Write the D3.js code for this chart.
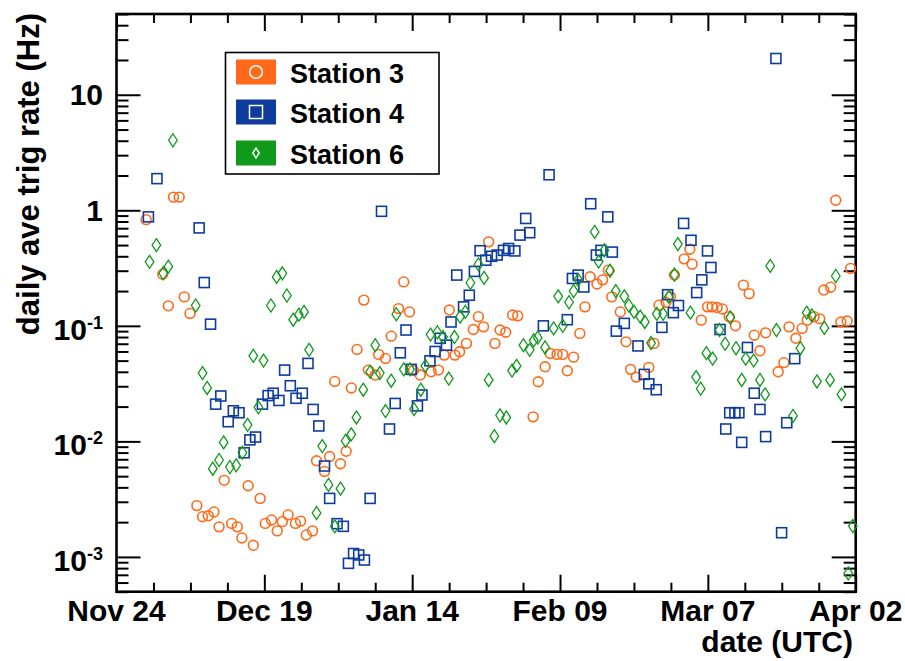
<!DOCTYPE html>
<html><head><meta charset="utf-8">
<script src="https://cdn.jsdelivr.net/npm/d3@7"></script>
<style>
html,body{margin:0;padding:0;background:#fff;}
text{font-family:"Liberation Sans",Arial,Helvetica,sans-serif;font-weight:bold;fill:#000;}
</style></head>
<body><svg id="c" width="905" height="661"></svg>
<script>
// ---- data (day offset from Nov 24, daily average trigger rate in Hz) ----
const tickLabels = ["Nov 24","Dec 19","Jan 14","Feb 09","Mar 07","Apr 02"];
const seriesNames = ["Station 3","Station 4","Station 6"];
const seriesColors = ["#ff6a1a","#0d3c9e","#109a1c"];

const s3Day = [5.2,8.1,9.1,10.0,11.0,11.9,12.9,14.1,15.1,16.1,17.1,18.0,18.9,20.2,21.2,22.0,23.1,24.0,25.2,26.1,27.2,28.2,29.1,30.1,31.4,32.3,33.3,34.4,35.1,36.5,37.4,38.3,39.3,40.3,41.2,42.2,43.4,44.2,45.4,46.0,47.2,48.2,49.5,50.4,51.4,52.1,53.3,55.2,56.5,57.5,58.4,59.4,60.2,61.4,62.6,63.5,64.4,65.3,66.4,67.3,68.3,69.5,70.4,73.1,74.0,75.2,76.1,77.3,78.3,79.1,80.2,81.3,82.2,83.1,84.3,85.3,86.3,86.9,88.4,89.4,90.2,91.2,93.4,94.3,95.2,96.4,97.2,97.9,99.6,100.6,101.0,102.6,103.7,104.5,105.4,106.3,107.5,108.6,110.0,111.0,111.9,112.9,113.9,116.1,117.1,118.0,119.2,120.3,121.2,122.4,123.4,124.1,125.3,126.2,127.1,128.2,128.8];
const s3Rate = [0.83,0.28,0.149,1.3,1.3,0.178,0.128,0.00278,0.00223,0.00227,0.00245,0.00182,0.0046,0.00195,0.00182,0.00146,0.00413,0.00126,0.00321,0.00195,0.00209,0.00168,0.00202,0.00231,0.00195,0.00204,0.00155,0.00168,0.0068,0.0055,0.0074,0.033,0.0064,0.0082,0.029,0.0625,0.167,0.0414,0.0375,0.0566,0.0522,0.0814,0.141,0.24,0.132,0.041,0.0375,0.040,0.0414,0.0558,0.137,0.0558,0.0596,0.0705,0.093,0.12,0.098,0.533,0.0705,0.092,0.088,0.124,0.122,0.0163,0.0328,0.0442,0.0576,0.0566,0.0566,0.0408,0.0536,0.086,0.146,0.266,0.23,0.25,0.303,0.178,0.132,0.0727,0.042,0.036,0.0437,0.0705,0.151,0.16,0.178,0.275,0.38,0.46,0.342,0.112,0.146,0.146,0.144,0.14,0.12,0.1,0.225,0.19,0.083,0.0608,0.087,0.040,0.048,0.098,0.078,0.095,0.112,0.12,0.115,0.204,0.216,1.22,0.108,0.11,0.314];

const s4Day = [5.6,7.1,14.5,15.4,16.5,17.4,18.3,19.6,20.5,21.5,22.4,23.4,24.4,25.6,26.6,27.5,28.5,29.5,30.5,31.5,32.6,33.6,34.5,35.5,36.5,37.4,38.7,39.8,40.7,41.6,42.5,43.5,44.5,46.5,47.9,48.9,49.8,50.8,51.7,52.8,53.6,55.0,55.9,56.8,57.9,58.7,59.7,60.9,61.9,62.8,63.8,64.8,65.8,66.8,67.9,68.8,69.9,70.8,71.8,72.5,74.9,75.9,79.1,80.0,81.0,82.0,83.2,84.2,85.0,86.2,87.0,87.7,89.1,91.5,92.6,93.4,94.7,95.7,96.7,97.7,98.6,99.5,100.8,101.8,102.7,103.7,104.3,105.9,106.9,107.6,108.5,109.2,109.7,110.7,111.9,112.9,113.9,115.7,116.7,117.6,119.0];
const s4Rate = [0.877,1.88,0.704,0.237,0.1034,0.021,0.0247,0.0148,0.0184,0.0177,0.00797,0.0103,0.0109,0.021,0.0249,0.0261,0.0226,0.0414,0.0303,0.0236,0.0261,0.0473,0.0189,0.0136,0.00612,0.00321,0.00194,0.00184,0.00088,0.00107,0.00104,0.00094,0.00321,0.98,0.0128,0.0213,0.0584,0.092,0.042,0.0203,0.0252,0.0498,0.060,0.078,0.068,0.108,0.275,0.146,0.184,0.296,0.447,0.37,0.40,0.41,0.45,0.467,0.445,0.61,0.85,0.64,0.1,2.03,0.113,0.257,0.275,0.217,1.14,0.41,0.45,0.877,0.435,0.09,0.105,0.067,0.038,0.0315,0.028,0.097,0.186,0.13,0.15,0.77,0.55,0.194,0.25,0.445,0.32,0.093,0.0128,0.0177,0.0177,0.0177,0.0098,0.065,0.0261,0.0189,0.011,20.6,0.00162,0.0145,0.052];

const s6Day = [5.8,7.0,8.2,9.1,9.9,13.9,15.1,15.9,16.9,18.0,18.8,19.9,21.0,22.1,23.0,24.0,24.9,25.8,27.1,28.1,29.1,29.9,31.0,32.0,32.9,33.8,35.1,36.1,37.2,38.3,39.3,40.2,41.2,42.1,43.3,44.5,45.4,46.2,47.2,48.2,49.1,50.4,51.5,52.2,53.4,54.2,55.1,56.3,57.3,58.3,59.3,60.3,61.2,62.1,63.5,64.5,65.3,66.3,67.3,68.4,69.4,70.2,71.4,72.5,73.2,73.9,75.2,76.7,77.5,78.3,79.4,80.2,81.0,83.9,84.6,85.6,86.6,87.6,89.1,89.9,90.8,91.9,92.7,93.8,94.8,95.9,96.9,97.9,98.5,100.7,101.7,102.5,103.5,104.6,105.8,106.8,107.7,108.7,109.7,110.4,111.8,112.9,113.8,114.7,115.8,118.7,120.0,121.1,122.0,122.9,124.2,125.2,126.2,127.2,128.4,129.2];
const s6Rate = [0.358,0.499,0.285,0.325,4.04,0.15,0.039,0.029,0.0058,0.0069,0.0098,0.006,0.0062,0.008,0.0139,0.055,0.0197,0.05,0.15,0.265,0.285,0.183,0.113,0.125,0.132,0.062,0.0024,0.0091,0.0042,0.00184,0.0039,0.0101,0.0115,0.0161,0.028,0.040,0.068,0.039,0.0183,0.0335,0.126,0.042,0.042,0.019,0.028,0.045,0.084,0.088,0.08,0.035,0.08,0.12,0.132,0.236,0.34,0.26,0.034,0.0111,0.0168,0.0161,0.041,0.045,0.068,0.062,0.075,0.079,0.065,0.095,0.18,0.10,0.16,0.2,0.25,0.65,0.36,0.45,0.30,0.2,0.18,0.15,0.132,0.12,0.108,0.071,0.127,0.127,0.178,0.278,0.51,0.13,0.036,0.0286,0.058,0.052,0.092,0.07,0.118,0.064,0.034,0.052,0.05,0.034,0.0255,0.33,0.092,0.0166,0.064,0.13,0.123,0.033,0.096,0.034,0.27,0.0255,0.00072,0.00185];

const yMajorValues = [1e-3,1e-2,1e-1,1,10];
const yMajorBase = ["10","10","10","1","10"];
const yMajorExp  = ["-3","-2","-1","",""];

// ---- layout ----
const L=116.5, R=855.7, T=14, B=591.7;
const dayMax = 129.7;
const svg = d3.select("#c");
const x = d3.scaleLinear().domain([0,dayMax]).range([L,R]);
const y = d3.scaleLog().domain([5e-4,50]).range([B,T]);

const xMajor = d3.range(6).map(i=>i*dayMax/5);
const xMinor = d3.range(21).map(i=>i*dayMax/20).filter((d,i)=>i%4!==0);
const yMinor = [];
for (let e=-4;e<=1;e++) for (let m=2;m<=9;m++){const v=m*Math.pow(10,e); if(v>=5e-4&&v<=50.01) yMinor.push(v);}

function axisStyle(g){g.select(".domain").remove(); g.selectAll("line").attr("stroke","#000").attr("stroke-width",2);}

svg.append("g").attr("transform",`translate(0,${B})`).call(d3.axisBottom(x).tickValues(xMajor).tickSize(-17).tickFormat("")).call(axisStyle);
svg.append("g").attr("transform",`translate(0,${B})`).call(d3.axisBottom(x).tickValues(xMinor).tickSize(-9).tickFormat("")).call(axisStyle);
svg.append("g").attr("transform",`translate(0,${T})`).call(d3.axisTop(x).tickValues(xMajor).tickSize(-17).tickFormat("")).call(axisStyle);
svg.append("g").attr("transform",`translate(0,${T})`).call(d3.axisTop(x).tickValues(xMinor).tickSize(-9).tickFormat("")).call(axisStyle);
svg.append("g").attr("transform",`translate(${L},0)`).call(d3.axisLeft(y).tickValues(yMajorValues).tickSize(-24).tickFormat("")).call(axisStyle);
svg.append("g").attr("transform",`translate(${L},0)`).call(d3.axisLeft(y).tickValues(yMinor).tickSize(-12).tickFormat("")).call(axisStyle);
svg.append("g").attr("transform",`translate(${R},0)`).call(d3.axisRight(y).tickValues(yMajorValues).tickSize(-24).tickFormat("")).call(axisStyle);
svg.append("g").attr("transform",`translate(${R},0)`).call(d3.axisRight(y).tickValues(yMinor).tickSize(-12).tickFormat("")).call(axisStyle);

svg.append("rect").attr("x",L).attr("y",T).attr("width",R-L).attr("height",B-T)
  .attr("fill","none").attr("stroke","#000").attr("stroke-width",2.6);

// x tick labels
svg.append("g").selectAll("text").data(xMajor).join("text")
  .attr("x",d=>x(d)).attr("y",621).attr("text-anchor","middle").attr("font-size",30)
  .text((d,i)=>tickLabels[i]);

// y tick labels
const yl = svg.append("g").selectAll("text").data(yMajorValues).join("text")
  .attr("x",103).attr("y",(d,i)=>y(d)+(yMajorExp[i]?14:10.5)).attr("text-anchor","end").attr("font-size",30);
yl.append("tspan").text((d,i)=>yMajorBase[i]);
yl.filter((d,i)=>yMajorExp[i]!=="").append("tspan").attr("font-size",18).attr("dy",-11)
  .text((d)=>yMajorExp[yMajorValues.indexOf(d)]);

// axis titles
svg.append("text").attr("transform","translate(39,13) rotate(-90)").attr("text-anchor","end")
  .attr("font-size",31).text("daily ave trig rate (Hz)");
svg.append("text").attr("x",853).attr("y",652).attr("text-anchor","end").attr("font-size",30).text("date (UTC)");

// markers
const shapes = {
  circle: (g,c,s)=>g.append("circle").attr("r",4.9*s),
  square: (g,c,s)=>g.append("rect").attr("x",-5*s).attr("y",-5*s).attr("width",10*s).attr("height",10*s),
  diamond:(g,c,s)=>g.append("path").attr("d",`M0,${-6.5*s}L${4.3*s},0L0,${6.5*s}L${-4.3*s},0Z`)
};
const shapeNames = ["circle","square","diamond"];
const seriesData = [[s3Day,s3Rate],[s4Day,s4Rate],[s6Day,s6Rate]];

seriesData.forEach(([days,rates],k)=>{
  const g = svg.append("g");
  days.forEach((d,i)=>{
    const m = g.append("g").attr("transform",`translate(${x(d)},${y(rates[i])})`);
    shapes[shapeNames[k]](m,seriesColors[k],1)
      .attr("fill","none").attr("stroke",seriesColors[k]).attr("stroke-width",k===2?1.3:1.6);
  });
});

// legend
const lg = svg.append("g");
lg.append("rect").attr("x",225.5).attr("y",52.5).attr("width",213.5).attr("height",121.5)
  .attr("fill","#fff").attr("stroke","#000").attr("stroke-width",1.6);
const rowY = [72,112,153];
seriesNames.forEach((nm,k)=>{
  lg.append("rect").attr("x",236).attr("y",rowY[k]-12.5).attr("width",40).attr("height",25).attr("fill",seriesColors[k]);
  const m = lg.append("g").attr("transform",`translate(256,${rowY[k]})`);
  shapes[shapeNames[k]](m,"#fff",k===2?0.75:1.3).attr("fill","none").attr("stroke","#fff").attr("stroke-width",1.5);
  lg.append("text").attr("x",290).attr("y",rowY[k]+11).attr("font-size",27).text(nm);
});
</script></body></html>
